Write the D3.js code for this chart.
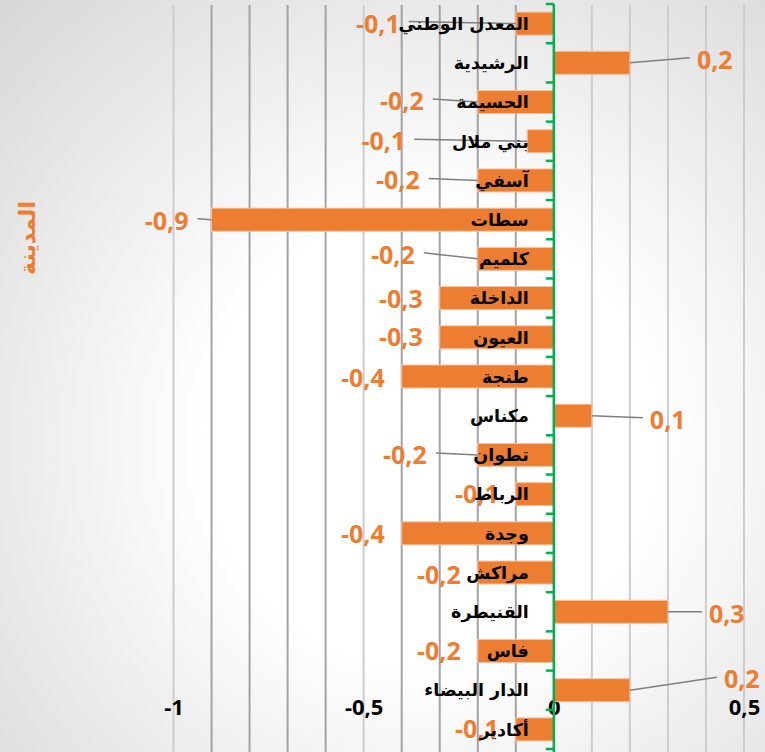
<!DOCTYPE html>
<html>
<head>
<meta charset="utf-8">
<script src="https://cdn.jsdelivr.net/npm/d3@7"></script>
<style>
  body { margin: 0; }
</style>
</head>
<body>
<div id="chart"></div>
<script>
const cities = [
  'المعدل الوطني', 'الرشيدية', 'الحسيمة', 'بني ملال', 'آسفي', 'سطات', 'كلميم',
  'الداخلة', 'العيون', 'طنجة', 'مكناس', 'تطوان', 'الرباط', 'وجدة', 'مراكش',
  'القنيطرة', 'فاس', 'الدار البيضاء', 'أكادير'
];
const changes = [
  -0.1, 0.2, -0.2, -0.07, -0.2, -0.9, -0.2,
  -0.3, -0.3, -0.4, 0.1, -0.2, -0.1, -0.4, -0.2,
  0.3, -0.2, 0.2, -0.1
];
const xTickValues = [-1, -0.5, 0, 0.5];
const axisTitle = 'المدينة';

// labels were dragged by hand in the workbook, these are the nudges (px)
const labelNudgeX = [-99, 50, -37, -105, -41, -6, -46, 0, 0, 0, 41, -34, 0, 0, 0, 24, 0, 77, 0];
const labelNudgeY = [0, -3, -1, 0, 0, 1, -4, 1, 0, 1, 4, 0, 0, 1, 2, 2, 0, -11, 0];

const W = 765, H = 752;
const PLOT = {LEFT: 173.5, RIGHT: 744, TOP: 4, BOTTOM: 749};
const ORANGE = '#ED7D31';
const LABEL_GAP = 17;

// excel style: comma decimal, plain hyphen
const comma = v => d3.format('.1f')(v).replace('.', ',').replace('\u2212', '-');

const svg = d3.select('#chart')
  .append('svg')
    .attr('width', W)
    .attr('height', H);

// background
const grad = svg.append('defs').append('radialGradient')
  .attr('id', 'bg')
  .attr('gradientUnits', 'userSpaceOnUse')
  .attr('cx', 430).attr('cy', 440).attr('r', 640);
grad.append('stop').attr('offset', '0%').attr('stop-color', '#ffffff');
grad.append('stop').attr('offset', '35%').attr('stop-color', '#ffffff');
grad.append('stop').attr('offset', '100%').attr('stop-color', '#d4d4d4');

svg.append('rect')
  .attr('width', W)
  .attr('height', H)
  .attr('fill', 'url(#bg)');

const x = d3.scaleLinear()
  .domain([-1, 0.5])
  .range([PLOT.LEFT, PLOT.RIGHT]);

const y = d3.scaleBand()
  .domain(cities)
  .range([PLOT.TOP, PLOT.BOTTOM])
  .paddingInner(0.413)
  .paddingOuter(0.2065);

// gridlines
const gridVals = d3.range(-10, 6).map(i => i / 10);
svg.append('g')
  .selectAll('line')
  .data(gridVals)
  .enter().append('line')
    .attr('x1', d => x(d))
    .attr('x2', d => x(d))
    .attr('y1', 5)
    .attr('y2', H)
    .attr('stroke', d => (d < 0 && Math.abs(d * 2 - Math.round(d * 2)) > 0.01) ? '#a3a3a3' : '#cdcdcd')
    .attr('stroke-width', 2);

// x tick labels
const xAxisG = svg.append('g')
  .attr('transform', `translate(0, 697)`)
  .call(d3.axisBottom(x).tickValues(xTickValues).tickFormat(d => d === 0 || d === -1 ? String(d) : comma(d)).tickSize(0));
xAxisG.select('.domain').remove();
xAxisG.selectAll('text')
  .attr('y', 18)
  .attr('dy', null)
  .attr('fill', '#000')
  .attr('font-family', '"Open Sans", sans-serif')
  .attr('font-weight', 'bold')
  .attr('font-size', '22px');

// bars
svg.append('g')
  .selectAll('rect')
  .data(changes)
  .enter().append('rect')
    .attr('x', d => x(Math.min(0, d)))
    .attr('y', (d, i) => y(cities[i]))
    .attr('width', d => Math.abs(x(d) - x(0)))
    .attr('height', y.bandwidth())
    .attr('fill', ORANGE)
    .attr('stroke', '#f6c4a2')
    .attr('stroke-width', 1);

// zero axis with ticks between categories
const axisG = svg.append('g');
axisG.append('line')
  .attr('x1', x(0)).attr('x2', x(0))
  .attr('y1', PLOT.TOP).attr('y2', H)
  .attr('stroke', '#00B050')
  .attr('stroke-width', 2.5);
axisG.selectAll('.tick')
  .data(d3.range(cities.length + 1))
  .enter().append('line')
    .attr('class', 'tick')
    .attr('x1', x(0) - 8)
    .attr('x2', x(0))
    .attr('y1', i => PLOT.TOP + i * y.step())
    .attr('y2', i => PLOT.TOP + i * y.step())
    .attr('stroke', '#00B050')
    .attr('stroke-width', 2.5);

// data labels
const labels = changes.map((v, i) => {
  const cy = y(cities[i]) + y.bandwidth() / 2;
  const neg = v < 0;
  const lx = x(v) + (neg ? -LABEL_GAP : LABEL_GAP) + labelNudgeX[i];
  return {v, i, cy, neg, lx, ly: cy + labelNudgeY[i]};
});

const lblG = svg.append('g');
lblG.selectAll('text')
  .data(labels)
  .enter().append('text')
    .attr('x', d => d.lx)
    .attr('y', d => d.ly)
    .attr('dy', '0.36em')
    .attr('text-anchor', d => d.neg ? 'end' : 'start')
    .attr('fill', ORANGE)
    .attr('font-family', '"Open Sans", sans-serif')
    .attr('font-weight', 'bold')
    .attr('font-size', '25px')
    .text(d => comma(d.v));

// leader lines for the labels that were moved away
lblG.selectAll('line')
  .data(labels.filter(d => Math.abs(labelNudgeX[d.i]) >= 5))
  .enter().append('line')
    .attr('x1', d => x(d.v))
    .attr('y1', d => d.cy)
    .attr('x2', d => d.neg ? d.lx + 9 : d.lx - 7)
    .attr('y2', d => d.ly - 2)
    .attr('stroke', '#7f7f7f')
    .attr('stroke-width', 1.5);

// category labels sit on top of everything
svg.append('g')
  .selectAll('text')
  .data(cities)
  .enter().append('text')
    .attr('x', x(0) - 25)
    .attr('y', d => y(d) + y.bandwidth() / 2)
    .attr('dy', '0.36em')
    .attr('text-anchor', 'end')
    .attr('fill', '#000')
    .attr('font-family', '"DejaVu Sans", sans-serif')
    .attr('font-weight', 'bold')
    .attr('font-size', '17.5px')
    .text(d => d);

// axis title
svg.append('text')
  .attr('transform', 'translate(27, 238) rotate(-90)')
  .attr('text-anchor', 'middle')
  .attr('dy', '0.36em')
  .attr('fill', ORANGE)
  .attr('font-family', '"DejaVu Sans", sans-serif')
  .attr('font-weight', 'bold')
  .attr('font-size', '22px')
  .text(axisTitle);
</script>
</body>
</html>
